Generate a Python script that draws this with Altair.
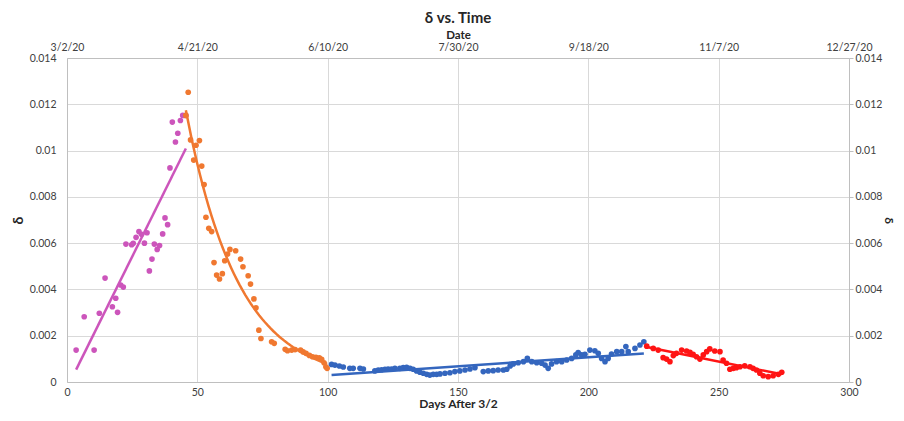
import altair as alt
import pandas as pd

# ---------------- data ----------------
pink_day = [3.5, 6.6, 10.4, 12.4, 14.6, 17.4, 18.7, 19.4, 20.6, 21.6, 22.6, 24.8, 25.4,
            26.5, 27.6, 28.6, 29.7, 30.7, 31.6, 32.6, 33.5, 34.6, 35.5, 36.7, 37.6, 38.6,
            39.5, 40.4, 41.6, 42.5, 43.5, 44.4, 45.6]
pink_val = [0.00138, 0.00282, 0.00138, 0.00297, 0.00449, 0.00325, 0.00362, 0.00301,
            0.00419, 0.00410, 0.00596, 0.00593, 0.00599, 0.00625, 0.00650, 0.00638,
            0.00600, 0.00645, 0.00480, 0.00531, 0.00596, 0.00573, 0.00590, 0.00640,
            0.00709, 0.00680, 0.00925, 0.01123, 0.01037, 0.01075, 0.01130, 0.01152, 0.01152]

orange_day = [45.6, 46.5, 47.4, 48.6, 49.5, 50.8, 51.7, 52.6, 53.3, 54.4, 55.5, 56.4, 57.4,
              58.5, 59.6, 60.5, 61.6, 62.5, 64.7, 66.6, 67.5, 69.5, 70.4, 71.7, 72.5, 73.6,
              74.4, 78.5, 79.5, 83.7, 84.6, 86.2, 87.5, 89.6, 90.6, 91.7, 93.0, 94.2, 95.5,
              96.8, 97.7, 98.6, 99.3, 99.8]
orange_val = [0.01152, 0.01252, 0.01046, 0.00959, 0.01023, 0.01043, 0.00933, 0.00853,
              0.00712, 0.00664, 0.00650, 0.00516, 0.00462, 0.00445, 0.00468, 0.00524,
              0.00553, 0.00573, 0.00567, 0.00531, 0.00498, 0.00459, 0.00423, 0.00359,
              0.00321, 0.00224, 0.00188, 0.00174, 0.00167, 0.00141, 0.00135, 0.00138,
              0.00140, 0.00138, 0.00130, 0.00124, 0.00115, 0.00109, 0.00107, 0.00104,
              0.00098, 0.00083, 0.00066, 0.00059]

blue_day = [101.5, 102.8, 104.5, 106.0, 108.5, 109.8, 112.4, 113.7, 118.1, 119.4, 120.7,
            122.0, 123.2, 124.5, 125.8, 127.7, 129.0, 130.3, 131.6, 132.8, 134.1, 135.4,
            136.7, 138.0, 139.2, 140.5, 141.8, 143.1, 145.0, 146.9, 148.8, 150.7, 152.7,
            154.6, 156.5, 159.7, 161.6, 163.5, 165.4, 167.4, 168.7, 170.0, 171.2, 173.1,
            175.1, 176.6, 178.3, 180.2, 182.1, 183.4, 184.6, 185.9, 187.8, 189.8, 191.7,
            193.6, 195.2, 196.1, 197.4, 198.7, 200.6, 202.5, 203.8, 205.1, 206.4, 207.6,
            208.9, 210.9, 212.8, 214.4, 215.3, 217.9, 219.8, 221.3]
blue_val = [0.00076, 0.00073, 0.00069, 0.00065, 0.00059, 0.00059, 0.00059, 0.00056,
            0.00048, 0.00052, 0.00053, 0.00055, 0.00056, 0.00056, 0.00059, 0.00059,
            0.00062, 0.00063, 0.00059, 0.00055, 0.00048, 0.00042, 0.00038, 0.00033,
            0.00030, 0.00033, 0.00033, 0.00035, 0.00038, 0.00040, 0.00045, 0.00048,
            0.00052, 0.00056, 0.00062, 0.00045, 0.00048, 0.00049, 0.00052, 0.00052,
            0.00055, 0.00069, 0.00078, 0.00083, 0.00088, 0.00102, 0.00088, 0.00083,
            0.00081, 0.00073, 0.00059, 0.00078, 0.00088, 0.00088, 0.00095, 0.00102,
            0.00117, 0.00127, 0.00117, 0.00120, 0.00138, 0.00135, 0.00124, 0.00102,
            0.00088, 0.00102, 0.00121, 0.00131, 0.00131, 0.00153, 0.00131, 0.00145,
            0.00160, 0.00174]

red_day = [222.4, 224.9, 226.8, 228.7, 230.0, 231.3, 232.6, 233.8, 235.8, 237.7, 239.0,
           240.2, 241.5, 242.8, 244.1, 245.4, 246.6, 248.5, 250.5, 251.7, 253.0, 254.3,
           255.6, 256.8, 258.2, 260.0, 262.0, 263.2, 264.5, 265.8, 267.1, 269.0, 270.9,
           272.9, 274.2]
red_val = [0.00155, 0.00145, 0.00138, 0.00105, 0.00099, 0.00088, 0.00114, 0.00124,
           0.00138, 0.00134, 0.00128, 0.00120, 0.00109, 0.00099, 0.00117, 0.00131,
           0.00143, 0.00134, 0.00131, 0.00095, 0.00081, 0.00055, 0.00059, 0.00062,
           0.00066, 0.00070, 0.00066, 0.00059, 0.00052, 0.00038, 0.00027, 0.00023,
           0.00027, 0.00033, 0.00042]

series_names = ["pink", "orange", "blue", "red"]
series_colors = ["#CC55BB", "#F07830", "#3466BE", "#FF1414"]
series_methods = ["linear", "exp", "linear", "linear"]
x_ticks = [0, 50, 100, 150, 200, 250, 300]
y_ticks = [0, 0.002, 0.004, 0.006, 0.008, 0.010, 0.012, 0.014]

# ---------------- chart ----------------
FONT = "Lato"
X_SCALE = alt.Scale(domain=[0, 300], nice=False, zero=False)
Y_SCALE = alt.Scale(domain=[0, 0.014], nice=False)
common = dict(labelFont=FONT, titleFont=FONT, labelColor="#404040", titleColor="#262626",
              labelFontSize=10.5, titleFontWeight="bold",
              domainColor="#BFBFBF", gridColor="#D9D9D9")

bottom_axis = alt.Axis(orient="bottom", values=x_ticks, title="Days After 3/2", grid=True,
                       ticks=False, labelFlush=False, labelPadding=5, titlePadding=1,
                       titleFontSize=12, **common)
left_axis = alt.Axis(orient="left", values=y_ticks, format="~g", title="δ", grid=True,
                     ticks=False, labelPadding=11, titlePadding=4, titleFontSize=14, **common)
top_axis = alt.Axis(orient="top", values=x_ticks, title="Date", grid=False, ticks=False,
                    labelFlush=False,
                    labelExpr="timeFormat(datetime(2020, 2, 2 + datum.value), '%-m/%-d/%y')",
                    labelPadding=6, titlePadding=2, titleFontSize=11.5, **common)
right_axis = alt.Axis(orient="right", values=y_ticks, format="~g", title="δ", grid=False,
                      ticks=True, tickSize=4, tickColor="#BFBFBF", labelPadding=2,
                      titlePadding=0, titleAngle=90, titleFontSize=12, **common)

frames = {
    "pink": pd.DataFrame({"day": pink_day, "delta": pink_val}),
    "orange": pd.DataFrame({"day": orange_day, "delta": orange_val}),
    "blue": pd.DataFrame({"day": blue_day, "delta": blue_val}),
    "red": pd.DataFrame({"day": red_day, "delta": red_val}),
}

layers = []
for i, (name, color, method) in enumerate(zip(series_names, series_colors, series_methods)):
    df = frames[name]
    pts = alt.Chart(df).mark_circle(size=32, color=color, opacity=1).encode(
        x=alt.X("day:Q", scale=X_SCALE, axis=bottom_axis if i == 0 else None),
        y=alt.Y("delta:Q", scale=Y_SCALE, axis=left_axis if i == 0 else None),
    )
    line = alt.Chart(df).transform_regression("day", "delta", method=method).mark_line(
        color=color, strokeWidth=2.5
    ).encode(
        x=alt.X("day:Q", scale=X_SCALE, axis=None),
        y=alt.Y("delta:Q", scale=Y_SCALE, axis=None),
    )
    layers += [pts, line]

axis_layer = alt.Chart(frames["pink"]).mark_circle(opacity=0).encode(
    x=alt.X("day:Q", scale=X_SCALE, axis=top_axis),
    y=alt.Y("delta:Q", scale=Y_SCALE, axis=right_axis),
)
layers.append(axis_layer)

chart = alt.layer(*layers).resolve_axis(x="independent", y="independent").properties(
    width=782,
    height=324,
    padding={"left": 59, "top": 50, "right": 47, "bottom": 31},
    autosize=alt.AutoSizeParams(type="none"),
    title=alt.TitleParams("δ vs. Time", font=FONT, fontSize=15, fontWeight="bold",
                          color="#262626", anchor="middle", offset=3),
).configure_view(stroke="transparent")

chart.save("out.html", embed_options={"renderer": "svg", "actions": False})
